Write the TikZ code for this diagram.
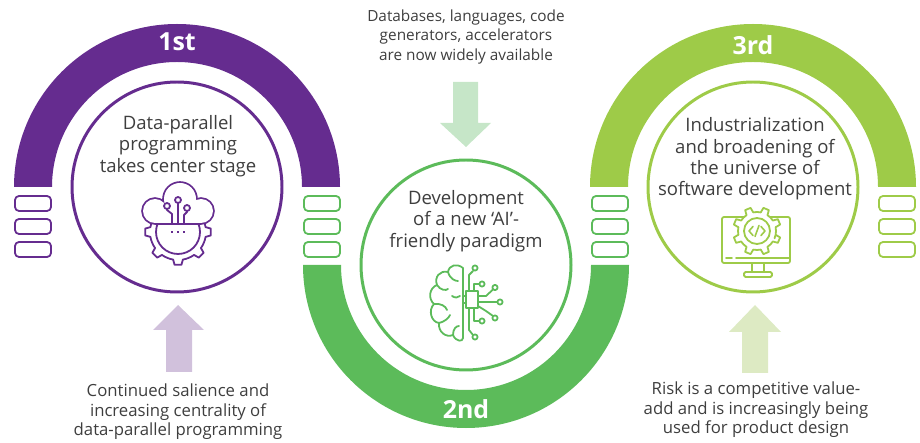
\documentclass[tikz,border=0pt]{standalone}
\usepackage{fontspec}
\setmainfont{Open Sans}
\definecolor{cP}{RGB}{101,44,143}
\definecolor{cG}{RGB}{92,187,90}
\definecolor{cL}{RGB}{158,203,72}
\definecolor{cPl}{RGB}{209,193,220}
\definecolor{cGl}{RGB}{198,230,200}
\definecolor{cLl}{RGB}{221,234,195}
\definecolor{txt}{RGB}{62,62,62}
\begin{document}
\begin{tikzpicture}[x=1bp,y=-1bp,line join=round,line cap=round,
  conn/.style={line width=1.8,rounded corners=4},
  ring/.style={line width=3},
  lab/.style={text=white,font=\fontsize{25}{25}\selectfont\bfseries,inner sep=0},
  body/.style={text=txt,align=center,font=\fontsize{18.6}{21.5}\selectfont,inner sep=0},
  note/.style={text=txt,align=center,font=\fontsize{15.4}{19.5}\selectfont,inner sep=0},
  lnote/.style={text=txt,align=center,font=\fontsize{16.8}{19.5}\selectfont,inner sep=0},
  ico/.style={line width=1.8}]
\useasboundingbox (0,0) rectangle (920,443);

% bands
\fill[cP] (14,187) arc[start angle=180,end angle=360,radius=163] -- (302,187) arc[start angle=0,end angle=-180,radius=125] -- cycle;
\fill[cG] (303,265) arc[start angle=180,end angle=0,radius=163] -- (591,265) arc[start angle=0,end angle=180,radius=125] -- cycle;
\fill[cL] (590,187) arc[start angle=180,end angle=360,radius=163] -- (878,187) arc[start angle=0,end angle=-180,radius=125] -- cycle;

% link rectangles
\foreach \y in {196,219,242}{
  \draw[conn,cP] (15,\y) rectangle (51,\y+15);
  \draw[conn,cG] (304,\y) rectangle (340,\y+15);
  \draw[conn,cG] (592,\y) rectangle (628,\y+15);
  \draw[conn,cL] (879,\y) rectangle (915,\y+15);
}

% inner circles
\draw[ring,cP] (177,187) circle[radius=105];
\draw[ring,cG] (466,265) circle[radius=105];
\draw[ring,cL] (753,187) circle[radius=105];

% ordinal labels
\node[lab] (l1) at (177,42) {1st};
\node[lab] (l2) at (466,409) {2nd};
\node[lab] (l3) at (753,45) {3rd};

% texts
\node[body] (t1) at (178,146) {Data-parallel\\programming\\takes center stage};
\node[body] (t2) at (466,221) {Development\\of a new ‘AI’-\\friendly paradigm};
\node[body] (t3) at (755,159) {Industrialization\\and broadening of\\the universe of\\software development};
\node[note] (n1) at (466,37) {Databases, languages, code\\generators, accelerators\\are now widely available};
\node[lnote] (n2) at (178,412) {Continued salience and\\increasing centrality of\\data-parallel programming};
\node[lnote] (n3) at (756,410) {Risk is a competitive value-\\add and is increasingly being\\used for product design};

% block arrows
\fill[cGl] (453,82) -- (478,82) -- (478,123) -- (491,123) -- (466,147) -- (440,123) -- (453,123) -- cycle;
\fill[cPl] (166,372) -- (192,372) -- (192,330) -- (204,330) -- (178,305) -- (153,330) -- (166,330) -- cycle;
\fill[cLl] (742,373) -- (768,373) -- (768,332) -- (781,332) -- (755,305) -- (729,332) -- (742,332) -- cycle;

% icon 1: cloud + gear + circuit
\begin{scope}[shift={(178,232)},cP]
  \draw[ico,fill=white] (-10:28) \foreach \a in {0,45,...,315}{ -- (\a-10:28) -- (\a-6:33) -- (\a+6:33) -- (\a+10:28) arc[start angle=\a+10,end angle=\a+35,radius=28] } -- cycle;
  \draw[ico] (0,0) circle[radius=22];
  \fill (-7.3,-1.2) rectangle (-4.7,1.2);
  \fill (-1.3,-1.2) rectangle (1.3,1.2);
  \fill (4.7,-1.2) rectangle (7.3,1.2);
\end{scope}
\begin{scope}
  \clip (130,170) rectangle (230,224.2);
  \draw[cP,line width=3.6] (155,211) circle[radius=12] (180,199) circle[radius=16] (201,211) circle[radius=12] (155,206) rectangle (201,223);
  \fill[white] (155,211) circle[radius=12];
  \fill[white] (180,199) circle[radius=16];
  \fill[white] (201,211) circle[radius=12];
  \fill[white] (155,206) rectangle (201,223);
\end{scope}
\begin{scope}[cP,ico]
  \draw (178,223) -- (178,203);
  \draw (178,200) circle[radius=3];
  \draw (172,223) -- (172,214) -- (167,210) -- (167,209);
  \draw (167,206) circle[radius=3];
  \draw (184,223) -- (184,215) -- (187,212) -- (187,211);
  \draw (187,208) circle[radius=3];
\end{scope}

% icon 2: brain + chip
\begin{scope}[cG,ico]
  \draw (463,268) .. controls (457,263) and (449,265) .. (448,272)
    .. controls (440,270) and (434,277) .. (437,285)
    .. controls (429,288) and (428,299) .. (434,304)
    .. controls (428,310) and (431,322) .. (439,323)
    .. controls (438,332) and (446,338) .. (453,335)
    .. controls (456,342) and (463,342) .. (463,338) -- cycle;
  \draw (448,272) .. controls (450,279) and (455,281) .. (458,281);
  \draw (437,285) .. controls (440,290) and (446,291) .. (448,289);
  \draw (434,304) .. controls (440,303) and (446,306) .. (447,310);
  \draw (439,323) .. controls (444,322) and (449,318) .. (450,315);
  \draw (453,335) .. controls (453,329) and (456,326) .. (459,326);
  \draw (452,296) .. controls (455,298) and (458,298) .. (460,296);
  \draw (466,291) rectangle (478,308);
  \draw (463,296) -- (466,296) (463,303) -- (466,303);
  \draw (469,291) -- (469,275) -- (473,271);
  \draw (475,268) circle[radius=2.6];
  \draw (474,291) -- (474,284) -- (479.4,284);
  \draw (482,284) circle[radius=2.6];
  \draw (478,296) -- (486,296) -- (493,289.5);
  \draw (495,287.5) circle[radius=2.6];
  \draw (478,302) -- (497.4,302);
  \draw (500,302) circle[radius=2.6];
  \draw (478,306) -- (486,311) -- (493,316);
  \draw (495,318) circle[radius=2.6];
  \draw (474,308) -- (474,321) -- (479.4,321);
  \draw (482,321) circle[radius=2.6];
  \draw (469,308) -- (469,330) -- (473,335);
  \draw (475,337) circle[radius=2.6];
\end{scope}

% icon 3: monitor + gear
\begin{scope}[cL,ico]
  \draw[rounded corners=2] (722,217) rectangle (790,263);
  \draw (726,258) -- (732,258) (736,258) -- (790,258);
  \draw (752,263) -- (752,272) (764,263) -- (764,272);
  \draw[rounded corners=1.5] (744,272) rectangle (772,277);
\end{scope}
\begin{scope}[shift={(757,231)},cL]
  \draw[ico,fill=white] (22.5:19) \foreach \a in {22.5,67.5,...,337.5}{ -- (\a-11:19) -- (\a-7:24) -- (\a+7:24) -- (\a+11:19) arc[start angle=\a+11,end angle=\a+34,radius=19] } -- cycle;
  \draw[ico] (0,0) circle[radius=13];
  \draw[line width=1.6] (-4,-4.5) -- (-8,0) -- (-4,4.5);
  \draw[line width=1.6] (4,-4.5) -- (8,0) -- (4,4.5);
  \draw[line width=1.6] (2,-5.5) -- (-2,5.5);
\end{scope}
\end{tikzpicture}
\end{document}
